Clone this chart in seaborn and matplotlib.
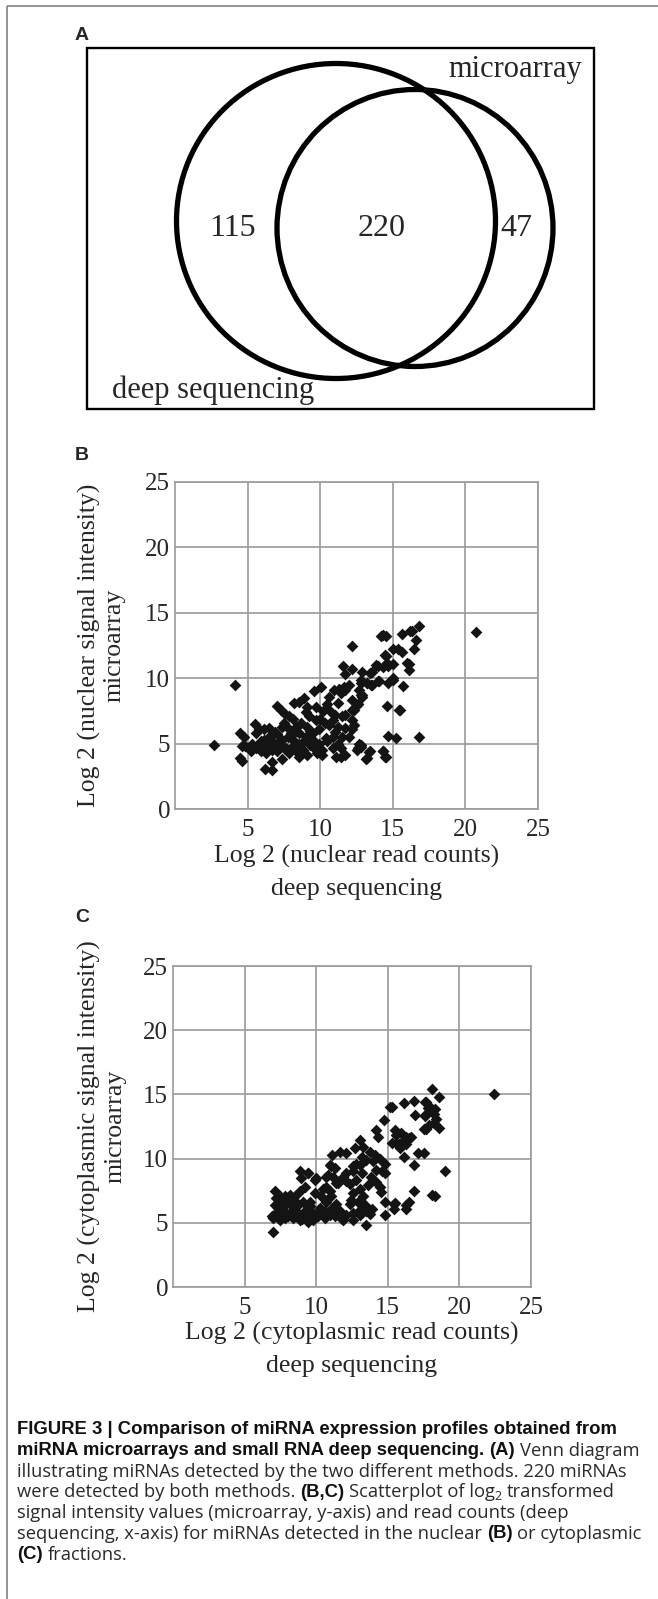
import numpy as np
import pandas as pd
import matplotlib
matplotlib.use("Agg")
import matplotlib.pyplot as plt
import seaborn as sns
from matplotlib.patches import Ellipse, Rectangle

# ---------------- data ----------------
venn_counts = ["115", "220", "47"]          # deep-seq only, both, microarray only
venn_sets = ["deep sequencing", "microarray"]

nuc_x = [2.7, 4.1, 20.7, 16.8, 15.2, 14.65, 16.8, 16.3, 16.6, 16.45, 15.6, 16.1, 16.1, 15.7, 15.5, 14.6,
         14.3, 14.5, 15.0, 15.35, 15.6, 14.55, 15.0, 14.65, 13.96, 13.6, 12.9, 13.4, 12.2, 11.6, 12.2, 11.7,
         12.8, 12.8, 13.2, 14.0, 14.65, 15.0, 13.6, 12.0, 12.7, 12.9, 12.2, 12.6, 12.2, 12.2, 12.3, 12.2,
         12.0, 12.8, 12.6, 13.4, 13.2, 14.3, 14.5, 11.4, 11.1, 11.7,
         9.6, 10.05, 10.6, 10.95, 11.3, 11.65, 11.4, 11.7, 11.2, 10.7, 11.0, 11.5, 11.7, 10.85, 10.6, 11.2,
         11.7, 11.0, 11.5, 10.85, 11.2, 11.4, 10.85, 10.5, 10.2, 9.7, 9.1, 8.9, 8.55, 8.2, 9.25, 9.7, 10.3,
         9.9, 9.5, 9.1, 8.7, 8.1, 7.6, 7.3, 7.05, 7.85, 8.3, 7.85, 7.4, 6.9, 8.55, 9.0, 9.5, 9.9, 10.15, 9.8,
         10.15, 9.6, 9.1, 8.8, 8.3, 8.1, 8.55, 8.1, 7.75, 7.4, 7.2, 7.65, 7.85, 7.05, 6.7, 6.35, 6.7, 7.05,
         6.5, 6.1, 5.8, 6.0, 6.25, 5.9, 5.55, 5.3, 5.2, 5.5, 5.55, 5.8, 6.1, 6.5, 4.5, 4.75, 4.6, 4.85, 4.5,
         4.6, 6.2, 6.7, 6.7, 7.35, 8.55,
         14.2, 16.2, 14.48, 13.83, 14.3, 14.6, 15.95, 13.25, 13.48, 14.06, 14.99, 12.79, 12.9, 12.55, 12.3,
         15.4, 12.67, 12.79, 12.55, 13.37, 13.14, 14.3, 14.48, 7.0, 7.6, 8.0, 8.9, 9.3, 10.4, 10.0, 9.3,
         8.0, 6.4, 5.9, 7.5, 9.0, 10.5]
nuc_y = [4.9, 9.5, 13.5, 5.5, 5.4, 5.6, 14.0, 13.6, 12.9, 12.2, 13.4, 11.1, 10.6, 9.4, 7.6, 7.9,
         13.3, 13.2, 12.2, 12.2, 12.0, 11.7, 11.1, 10.9, 10.9, 10.5, 10.5, 10.4, 12.5, 10.9, 10.7, 10.3,
         9.9, 9.6, 9.6, 9.8, 9.6, 9.9, 9.5, 9.5, 9.1, 8.7, 8.3, 8.0, 7.6, 6.8, 6.4, 6.1,
         5.5, 4.9, 4.7, 4.4, 3.9, 4.4, 4.0, 4.0, 4.0, 4.1,
         9.0, 9.3, 8.6, 9.1, 9.2, 9.3, 8.9, 9.1, 8.1, 7.5, 7.2, 7.1, 7.2, 6.8, 6.4, 6.3,
         6.2, 5.9, 5.5, 5.5, 5.0, 4.7, 4.7, 5.2, 7.5, 7.8, 7.8, 8.5, 8.2, 8.1, 7.1, 6.8, 6.6,
         6.1, 5.8, 6.3, 6.6, 6.9, 7.3, 7.6, 7.9, 7.1, 6.3, 6.1, 6.3, 5.9, 5.8, 5.5, 5.3, 5.0, 4.5, 4.3,
         4.1, 4.7, 4.1, 4.5, 4.4, 4.8, 5.0, 5.3, 5.5, 5.3, 4.9, 4.7, 4.3, 4.4, 4.5, 4.8, 5.2, 5.7,
         5.5, 5.3, 5.0, 4.7, 4.3, 4.4, 4.7, 5.0, 4.4, 6.5, 5.8, 6.1, 6.1, 6.2, 5.8, 5.5, 4.8, 4.8, 3.9,
         3.7, 3.05, 2.95, 3.6, 3.8, 4.0,
         13.2, 13.6, 11.77, 11.0, 10.87, 11.18, 11.18, 9.65, 9.47, 9.78, 9.99, 8.71, 8.53, 7.95, 7.56,
         7.6, 5.0, 4.76, 4.5, 4.37, 3.8, 4.43, 3.99, 5.0, 4.6, 5.6, 5.2, 6.0, 5.4, 6.9, 4.9,
         5.8, 4.6, 5.2, 6.6, 7.4, 8.0]

cyt_x = [22.4, 19.0, 18.1, 18.55, 17.7, 17.95, 18.3, 17.7, 18.2, 18.4, 17.6, 18.2, 18.55, 17.7, 18.1, 18.3,
         16.85, 16.15, 16.9, 15.3, 14.7, 14.2, 14.3, 15.5, 15.6, 15.95, 16.3, 16.5, 15.3, 15.6, 15.95, 16.3,
         15.85, 17.1, 16.8, 16.1, 16.8, 16.3, 16.3, 15.4, 15.4, 14.8, 14.8, 13.5, 13.05, 12.7, 13.3, 13.75,
         13.5, 14.1, 14.45, 14.8, 14.6, 14.8, 14.2, 13.85, 14.2, 14.45, 14.55, 13.6, 13.2, 12.8, 12.6, 12.1,
         11.65, 11.1, 11.05, 10.8, 11.2, 11.4, 11.9, 12.1, 12.35, 12.8, 13.05, 12.6, 13.3, 12.95, 13.4,
         13.05, 13.5, 13.9, 12.35, 12.6, 12.1, 11.9, 11.65, 11.3, 11.4, 11.05, 10.7, 10.35, 10.5, 10.7,
         10.95, 10.25, 10.6, 10.95, 10.6, 10.1, 9.8, 9.45, 9.8, 9.3, 9.55, 9.9, 10.0, 9.45, 8.85, 8.95,
         9.2, 8.85, 8.5, 8.15, 7.8, 7.45, 7.1, 7.45, 7.8, 8.25, 8.7, 9.1, 8.4, 8.75, 9.1, 8.85, 9.45, 8.4,
         8.05, 7.7, 7.35, 7.2, 7.0, 7.45, 7.8, 6.9, 7.1, 7.2, 6.95, 12.6, 13.05, 13.75,
         17.6, 17.8, 17.5, 17.9, 16.6, 16.2, 15.8, 15.14, 17.5, 16.5, 15.5, 10.95, 11.3, 9.4, 9.9, 10.7,
         11.54, 12.1, 12.6, 13.05, 7.5, 8.0, 8.6, 9.0, 9.6, 10.3, 11.0, 11.8, 12.4, 13.2, 14.0, 7.3, 8.2]
cyt_y = [15.0, 9.0, 15.4, 14.8, 14.4, 14.0, 13.9, 13.5, 13.5, 13.1, 13.3, 12.8, 12.4, 12.3, 7.2, 7.05,
         14.5, 14.35, 13.4, 14.0, 13.0, 12.2, 11.7, 12.2, 11.8, 12.0, 11.7, 11.6, 11.2, 11.2, 11.1, 11.1,
         10.8, 10.4, 9.5, 10.1, 7.5, 6.4, 6.1, 6.5, 6.05, 6.65, 5.6, 4.8, 11.45, 10.8, 10.9, 10.5,
         9.9, 10.3, 10.0, 9.6, 9.0, 8.9, 9.1, 8.6, 8.2, 7.8, 7.4, 7.95, 10.1, 9.6, 9.4, 10.4,
         10.5, 10.3, 9.4, 8.7, 8.6, 8.1, 8.6, 8.9, 8.0, 8.3, 7.6, 7.3, 7.05, 6.65, 6.4,
         6.0, 5.9, 6.1, 6.5, 5.75, 5.6, 5.2, 5.9, 5.5, 6.5, 7.05, 6.65, 7.05, 7.6, 7.8,
         7.45, 6.15, 5.9, 5.6, 5.35, 5.5, 5.75, 5.35, 5.2, 6.0, 6.65, 7.3, 8.5, 8.9, 9.0, 8.5,
         7.8, 7.45, 7.05, 7.2, 7.05, 7.05, 7.45, 6.65, 6.4, 6.4, 6.5, 6.65, 6.0, 5.75, 5.5, 5.25, 5.1, 5.35,
         5.6, 6.0, 6.15, 5.6, 5.35, 5.25, 5.35, 5.5, 6.4, 6.9, 4.3, 5.25, 5.6, 5.7,
         14.4, 13.97, 12.3, 12.6, 11.7, 11.5, 11.1, 13.98, 10.4, 6.6, 6.55, 9.5, 9.25, 8.85, 8.3, 8.6,
         8.07, 8.26, 9.0, 9.5, 5.8, 5.5, 6.2, 5.3, 6.3, 5.9, 6.1, 5.3, 6.8, 8.9, 9.8, 5.9, 6.6]

x_ticks = [5, 10, 15, 20, 25]
y_ticks = [0, 5, 10, 15, 20, 25]

nuc_xlabel = "Log 2 (nuclear read counts)\ndeep sequencing"
nuc_ylabel = "Log 2 (nuclear signal intensity)\nmicroarray"
cyt_xlabel = "Log 2 (cytoplasmic read counts)\ndeep sequencing"
cyt_ylabel = "Log 2 (cytoplasmic signal intensity)\nmicroarray"

caption_lines = [
    [("FIGURE 3 | Comparison of miRNA expression profiles obtained from", "b")],
    [("miRNA microarrays and small RNA deep sequencing. ", "b"), ("(A)", "b"), (" Venn diagram", "r")],
    [("illustrating miRNAs detected by the two different methods. 220 miRNAs", "r")],
    [("were detected by both methods. ", "r"), ("(B,C)", "b"), (" Scatterplot of log", "r"), ("2", "sub"),
     (" transformed", "r")],
    [("signal intensity values (microarray, y-axis) and read counts (deep", "r")],
    [("sequencing, x-axis) for miRNAs detected in the nuclear ", "r"), ("(B)", "b"), (" or cytoplasmic", "r")],
    [("(C)", "b"), (" fractions.", "r")],
]

# ---------------- figure ----------------
sns.set_style("white")
SERIF = ["Liberation Serif", "DejaVu Serif"]
SANS = ["Liberation Sans", "DejaVu Sans"]
SANS_R = ["Open Sans", "Liberation Sans", "DejaVu Sans"]
plt.rcParams["font.family"] = SERIF

W, H = 658, 1599
fig = plt.figure(figsize=(W / 100, H / 100), dpi=100)
bg = fig.add_axes([0, 0, 1, 1], zorder=0)
bg.set_xlim(0, W)
bg.set_ylim(H, 0)
bg.axis("off")

# outer frame
bg.plot([7, W], [6, 6], color="#777777", lw=1.1, solid_capstyle="butt")
bg.plot([7, 7], [6, H], color="#777777", lw=1.1, solid_capstyle="butt")

# ---- panel A: Venn ----
bg.text(82, 35, "A", family=SANS, fontweight="bold", fontsize=14, ha="center", va="center")
bg.add_patch(Rectangle((87, 48), 507, 361, fill=False, lw=1.7, ec="black"))
bg.add_patch(Ellipse((336, 221), 319, 315, fill=False, lw=3.8, ec="black"))
bg.add_patch(Ellipse((415, 228), 276, 277, fill=False, lw=3.8, ec="black"))
for (xx, lab) in zip([233, 382, 516], venn_counts):
    bg.text(xx, 229, lab, fontsize=23, ha="center", va="center")
bg.text(582, 70, venn_sets[1], fontsize=22, ha="right", va="center")
bg.text(112, 390, venn_sets[0], fontsize=22, ha="left", va="center")

# ---- scatter panels ----
def scatter_panel(rect, xs, ys, xlabel, ylabel, letter, letter_y, ylab_x, xlab_y):
    ax = fig.add_axes(rect, zorder=2)
    df = pd.DataFrame({"x": xs, "y": ys})
    sns.scatterplot(data=df, x="x", y="y", ax=ax, marker="D", s=36, color="#141414",
                    linewidth=0, zorder=3)
    ax.set_xlim(0, 25)
    ax.set_ylim(0, 25)
    ax.set_xticks(x_ticks)
    ax.set_yticks(y_ticks)
    ax.set_xticklabels([str(t) for t in x_ticks])
    ax.set_yticklabels([str(t) for t in y_ticks])
    ax.grid(True, color="#9a9a9a", lw=1.2)
    ax.set_axisbelow(True)
    for s in ax.spines.values():
        s.set_color("#9a9a9a")
        s.set_linewidth(1.2)
        s.set_visible(True)
    ax.tick_params(axis="both", length=0, labelsize=18)
    ax.tick_params(axis="x", pad=7)
    ax.tick_params(axis="y", pad=3.5)
    ax.set_facecolor("none")
    ax.set_xlabel(xlabel, fontsize=18.5, linespacing=1.6)
    ax.set_ylabel(ylabel, fontsize=18.5, linespacing=1.2)
    ax.yaxis.set_label_coords(ylab_x, 0.5)
    ax.xaxis.set_label_coords(0.5, xlab_y)
    bg.text(82, letter_y, letter, family=SANS, fontweight="bold", fontsize=14,
            ha="center", va="center")
    return ax

scatter_panel([175 / W, 1 - 809 / H, 363 / W, 327 / H], nuc_x, nuc_y, nuc_xlabel, nuc_ylabel,
              "B", 456, -0.135, -0.11)
scatter_panel([173 / W, 1 - 1287 / H, 358 / W, 321 / H], cyt_x, cyt_y, cyt_xlabel, cyt_ylabel,
              "C", 918, -0.131, -0.108)

# ---- caption ----
fig.canvas.draw()
renderer = fig.canvas.get_renderer()

def measure(txt, **kw):
    t = bg.text(0, 0, txt, **kw)
    w = t.get_window_extent(renderer).width
    t.remove()
    return w

CAP_B = 13.3
CAP_R = 13.2
for i, segs in enumerate(caption_lines):
    y = 1430 + 20.8 * i
    x = 17
    for txt, style in segs:
        if style == "sub":
            kw = dict(family=SANS_R, fontsize=CAP_R * 0.68, color="#2a2a2a")
            bg.text(x, y + 4, txt, va="center", ha="left", **kw)
        else:
            if style == "b":
                kw = dict(family=SANS, fontsize=CAP_B, fontweight="bold", color="#111111")
            else:
                kw = dict(family=SANS_R, fontsize=CAP_R, fontweight="normal", color="#2a2a2a")
            lead = len(txt) - len(txt.lstrip(" "))
            body = txt.strip(" ")
            if lead:
                x += measure("|" + " " * lead + "|", **kw) - measure("||", **kw)
            bg.text(x, y, body, va="center", ha="left", **kw)
            txt = body + " " * (len(txt) - lead - len(body))
        x += measure(txt + "|", **kw) - measure("|", **kw)

fig.savefig("out.png", dpi=100)
